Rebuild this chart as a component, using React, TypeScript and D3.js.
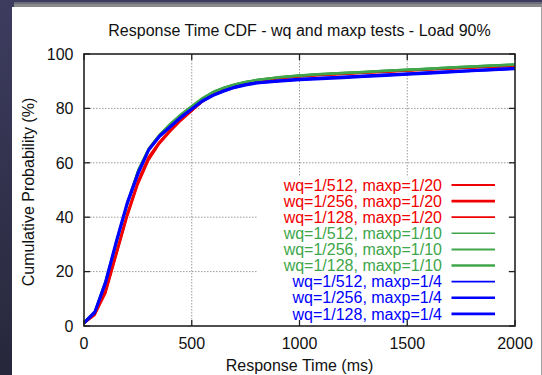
import React from "react";
import * as d3 from "d3";

const times = [0, 50, 100, 150, 200, 250, 300, 350, 400, 450, 500, 550, 600, 650, 700, 750, 800, 900, 1000, 1100, 1200, 1300, 1400, 1500, 1600, 1700, 1800, 1900, 2000];

const red1 = [1, 4, 12, 26, 40, 52, 61, 67, 71.5, 75.5, 79, 82.5, 85, 86.8, 88.2, 89.2, 90, 91, 91.7, 92.2, 92.6, 93, 93.4, 93.8, 94.2, 94.6, 95, 95.3, 95.6];
const red2 = [1, 4.5, 13, 27, 41, 53, 62, 67.5, 72, 76, 79.3, 82.7, 85.2, 87, 88.4, 89.4, 90.2, 91.2, 91.9, 92.4, 92.8, 93.2, 93.6, 94, 94.4, 94.8, 95.1, 95.4, 95.7];
const red3 = [1.2, 4.2, 12.5, 26.5, 40.5, 52.5, 61.5, 67.3, 71.8, 75.8, 79.1, 82.6, 85.1, 86.9, 88.3, 89.3, 90.1, 91.1, 91.8, 92.3, 92.7, 93.1, 93.5, 93.9, 94.3, 94.7, 95, 95.4, 95.7];
const green1 = [1.5, 5.5, 17, 31.5, 45.5, 57.5, 65.5, 70.5, 74.5, 78, 81, 84, 86.3, 87.8, 89, 89.9, 90.6, 91.6, 92.3, 92.8, 93.2, 93.6, 94, 94.4, 94.8, 95.2, 95.6, 96, 96.3];
const green2 = [1.5, 5.3, 16.5, 31, 45, 57, 65.2, 70.3, 74.3, 77.8, 80.8, 83.8, 86.1, 87.7, 88.9, 89.8, 90.5, 91.5, 92.2, 92.7, 93.1, 93.5, 93.9, 94.3, 94.7, 95.1, 95.5, 95.9, 96.2];
const green3 = [1.3, 5, 16, 30.5, 44.5, 56.5, 65, 70, 74, 77.5, 80.6, 83.6, 86, 87.5, 88.7, 89.6, 90.3, 91.3, 92, 92.5, 92.9, 93.3, 93.7, 94.1, 94.5, 94.9, 95.3, 95.7, 96];
const blue1 = [1, 5, 16, 31, 45, 56, 65, 70, 73.5, 77, 80, 83, 85, 86.7, 88, 88.9, 89.6, 90.3, 90.9, 91.3, 91.7, 92.1, 92.5, 92.9, 93.3, 93.7, 94.1, 94.5, 94.9];
const blue2 = [1, 4.8, 15.5, 30.5, 44.5, 55.5, 64.5, 69.5, 73, 76.5, 79.6, 82.6, 84.7, 86.3, 87.6, 88.5, 89.2, 89.9, 90.4, 90.8, 91.2, 91.6, 92, 92.4, 92.8, 93.3, 93.7, 94.1, 94.5];
const blue3 = [1.2, 5.2, 16.3, 31.3, 45.3, 56.3, 64.8, 69.8, 73.3, 76.8, 79.8, 82.8, 84.9, 86.5, 87.8, 88.7, 89.4, 90.1, 90.7, 91.1, 91.5, 91.9, 92.3, 92.7, 93.1, 93.5, 93.9, 94.3, 94.7];

const seriesLabels = [
  "wq=1/512, maxp=1/20",
  "wq=1/256, maxp=1/20",
  "wq=1/128, maxp=1/20",
  "wq=1/512, maxp=1/10",
  "wq=1/256, maxp=1/10",
  "wq=1/128, maxp=1/10",
  "wq=1/512, maxp=1/4",
  "wq=1/256, maxp=1/4",
  "wq=1/128, maxp=1/4",
];
const seriesValues = [red1, red2, red3, green1, green2, green3, blue1, blue2, blue3];

const xTicks = [0, 500, 1000, 1500, 2000];
const yTicks = [0, 20, 40, 60, 80, 100];

const RED = "#f00000";
const GREEN = "#40a64b";
const BLUE = "#0000ff";
const colors = [RED, RED, RED, GREEN, GREEN, GREEN, BLUE, BLUE, BLUE];
const widths = [2, 2.7, 1.7, 1.4, 2, 2.4, 1.8, 2.4, 2.8];

const FONT = "'Liberation Sans', Arial, sans-serif";

export default function App() {
  const W = 542, H = 375;
  const L = 84, R = 515, T = 54, B = 326;
  const x = d3.scaleLinear().domain([0, 2000]).range([L, R]);
  const y = d3.scaleLinear().domain([0, 100]).range([B, T]);
  const line = d3.line<[number, number]>().x((d) => x(d[0])).y((d) => y(d[1]));

  const legX = 442;
  const legY0 = 185;
  const legDy = 16.1;

  return (
    <svg width={W} height={H} style={{ position: "absolute", left: 0, top: 0 }} fontFamily={FONT}>
      <defs>
        <linearGradient id="bg" x1="0" y1="0" x2="0" y2="1">
          <stop offset="0" stopColor="#3d3c5f" />
          <stop offset="1" stopColor="#27273b" />
        </linearGradient>
      </defs>
      <rect x={0} y={0} width={W} height={H} fill="url(#bg)" />
      <rect x={14} y={2} width={W - 14} height={2} fill="#6c6c78" />
      <rect x={14} y={4} width={W - 14} height={3} fill="#8a8a8a" />
      <rect x={12} y={7} width={529} height={H - 7} fill="#ffffff" />
      <rect x={541} y={7} width={1} height={H - 7} fill="#a0a0a0" />

      {/* grid */}
      <g stroke="#9a9a9a" strokeWidth={1} strokeDasharray="1.5,1.5">
        {yTicks.filter((t) => t > 0 && t < 100).map((t) => (
          <line key={"gy" + t} x1={L} x2={R} y1={y(t)} y2={y(t)} />
        ))}
        {xTicks.filter((t) => t > 0 && t < 2000).map((t) => (
          <line key={"gx" + t} x1={x(t)} x2={x(t)} y1={T} y2={B} />
        ))}
      </g>

      {/* curves */}
      <g fill="none" strokeLinejoin="round">
        {seriesValues.map((vals, i) => (
          <path
            key={"s" + i}
            d={line(times.map((t, j) => [t, vals[j]] as [number, number])) || ""}
            stroke={colors[i]}
            strokeWidth={widths[i]}
          />
        ))}
      </g>

      {/* legend box (opaque) */}
      <rect x={257} y={177} width={251} height={144} fill="#ffffff" />

      {/* frame and ticks */}
      <g stroke="#222" strokeWidth={1.3}>
        {xTicks.map((t) => (
          <g key={"tx" + t}>
            <line x1={x(t)} x2={x(t)} y1={B} y2={B - 6} />
            <line x1={x(t)} x2={x(t)} y1={T} y2={T + 6} />
          </g>
        ))}
        {yTicks.map((t) => (
          <g key={"ty" + t}>
            <line x1={L} x2={L + 6} y1={y(t)} y2={y(t)} />
            <line x1={R} x2={R - 6} y1={y(t)} y2={y(t)} />
          </g>
        ))}
        <rect x={L} y={T} width={R - L} height={B - T} fill="none" strokeWidth={1.6} />
      </g>

      {/* tick labels */}
      <g fontSize={16} fill="#111">
        {xTicks.map((t) => (
          <text key={"lx" + t} x={x(t)} y={348.5} textAnchor="middle">{t}</text>
        ))}
        {yTicks.map((t) => (
          <text key={"ly" + t} x={73.5} y={y(t)} dy="0.36em" textAnchor="end">{t}</text>
        ))}
      </g>

      {/* titles */}
      <text x={299.5} y={36} fontSize={16} textAnchor="middle" fill="#111">
        Response Time CDF - wq and maxp tests - Load 90%
      </text>
      <text x={299.5} y={371} fontSize={16} textAnchor="middle" fill="#111">
        Response Time (ms)
      </text>
      <text
        transform={`translate(33.5,192) rotate(-90)`}
        fontSize={16}
        textAnchor="middle"
        fill="#111"
      >
        Cumulative Probability (%)
      </text>

      {/* legend entries */}
      {seriesLabels.map((lab, i) => {
        const cy = legY0 + i * legDy;
        return (
          <g key={"lg" + i}>
            <text x={legX} y={cy + 5.7} fontSize={16} textAnchor="end" fill={colors[i]}>
              {lab}
            </text>
            <line x1={451.5} x2={495} y1={cy} y2={cy} stroke={colors[i]} strokeWidth={widths[i]} />
          </g>
        );
      })}
    </svg>
  );
}
